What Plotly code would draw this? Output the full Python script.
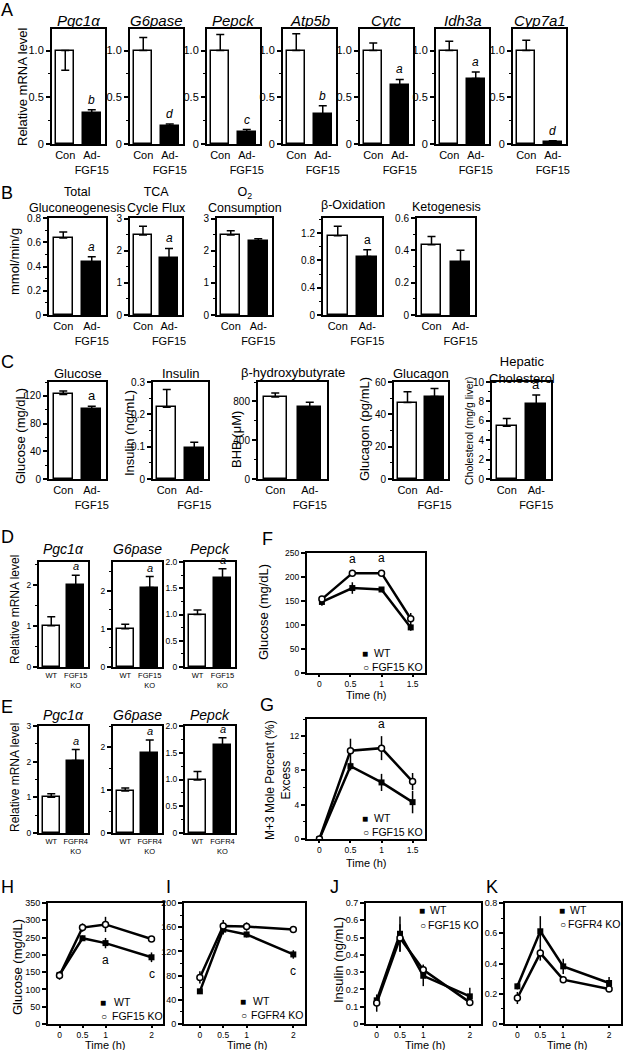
import plotly.graph_objects as go

W, H = 623, 1050
FONT = "Liberation Sans, Arial, Helvetica, sans-serif"

# ---------------- DATA ----------------
# Panel A
a_genes = ["Pgc1α", "G6pase", "Pepck", "Atp5b", "Cytc", "Idh3a", "Cyp7a1"]
a_groups = ["Con", "Ad-<br>FGF15"]
a_con = [1.0, 1.0, 1.0, 1.0, 1.0, 1.0, 1.0]
a_con_err_up = [0.0, 0.14, 0.17, 0.18, 0.08, 0.10, 0.11]
a_con_err_down = [0.21, 0.0, 0.0, 0.0, 0.0, 0.0, 0.0]
a_ad = [0.33, 0.19, 0.13, 0.32, 0.63, 0.70, 0.02]
a_ad_err = [0.035, 0.025, 0.025, 0.09, 0.06, 0.07, 0.015]
a_sig = ["b", "d", "c", "b", "a", "a", "d"]
a_yticks = [0, 0.5, 1.0]
a_yticktext = ["0", "0.5", "1.0"]

# Panel B
b_titles = ["Total<br>Gluconeogenesis", "TCA<br>Cycle Flux", "O<sub>2</sub><br>Consumption",
            "β-Oxidation", "Ketogenesis"]
b_con = [0.635, 2.5, 2.5, 1.16, 0.435]
b_con_err = [0.05, 0.27, 0.13, 0.14, 0.05]
b_ad = [0.44, 1.78, 2.3, 0.855, 0.33]
b_ad_err = [0.04, 0.3, 0.08, 0.10, 0.07]
b_sig = ["a", "a", "", "a", ""]
b_yticks = [[0, 0.2, 0.4, 0.6, 0.8], [0, 1, 2, 3], [0, 1, 2, 3], [0, 0.4, 0.8, 1.2], [0, 0.2, 0.4, 0.6]]
b_yticktext = [["0", "0.2", "0.4", "0.6", "0.8"], ["0", "1", "2", "3"], ["0", "1", "2", "3"],
               ["0", "0.4", "0.8", "1.2"], ["0", "0.2", "0.4", "0.6"]]

# Panel C
c_titles = ["Glucose", "Insulin", "β-hydroxybutyrate", "Glucagon", "Hepatic<br>Cholesterol"]
c_ytitles = ["Glucose (mg/dL)", "Insulin (ng/mL)", "BHB (μM)", "Glucagon (pg/mL)", "Cholesterol (mg/g liver)"]
c_con = [122, 0.222, 845, 47.3, 5.45]
c_con_err = [5, 0.055, 42, 6.7, 0.8]
c_ad = [100.5, 0.096, 744, 51, 7.7]
c_ad_err = [4.5, 0.018, 48, 5, 0.95]
c_sig = ["a", "", "", "", "a"]
c_yticks = [[0, 40, 80, 120], [0, 0.1, 0.2, 0.3], [0, 400, 800], [0, 20, 40, 60], [0, 2, 4, 6, 8, 10]]
c_yticktext = [["0", "40", "80", "120"], ["0", "0.1", "0.2", "0.3"], ["0", "400", "800"],
               ["0", "20", "40", "60"], ["0", "2", "4", "6", "8", "10"]]

# Panels D and E
de_genes = ["Pgc1α", "G6pase", "Pepck"]
d_groups = ["WT", "FGF15<br>KO"]
d_wt = [1.0, 1.0, 1.0]
d_wt_err = [0.22, 0.12, 0.085]
d_ko = [1.98, 2.08, 1.70]
d_ko_err = [0.25, 0.29, 0.17]
d_sig = ["a", "a", "a"]
e_groups = ["WT", "FGFR4<br>KO"]
e_wt = [1.0, 0.98, 0.99]
e_wt_err = [0.10, 0.07, 0.16]
e_ko = [2.03, 1.86, 1.64]
e_ko_err = [0.31, 0.31, 0.14]
e_sig = ["a", "a", "a"]
d_yticks = [[0, 1, 2], [0, 1, 2], [0, 0.5, 1.0, 1.5, 2.0]]
d_yticktext = [["0", "1", "2"], ["0", "1", "2"], ["0", "0.5", "1.0", "1.5", "2.0"]]
e_yticks = [[0, 1, 2, 3], [0, 1, 2], [0, 0.5, 1.0, 1.5, 2.0]]
e_yticktext = [["0", "1", "2", "3"], ["0", "1", "2"], ["0", "0.5", "1.0", "1.5", "2.0"]]

# Panel F (glucose, FGF15 KO)
f_time = [0.04, 0.53, 1.0, 1.47]
f_wt = [148, 177, 174, 95]
f_wt_err = [8, 12, 4, 7]
f_ko = [154, 208, 208, 113]
f_ko_err = [5, 4, 6, 12]
f_sig = ["", "a", "a", ""]

# Panel G (M+3 mole percent excess)
g_time = [0, 0.5, 1.0, 1.5]
g_wt = [0, 8.5, 6.6, 4.3]
g_wt_err = [0, 0.5, 1.0, 1.3]
g_ko = [0, 10.3, 10.6, 6.7]
g_ko_err = [0, 1.4, 1.4, 1.0]
g_sig = ["", "", "a", ""]

# Panels H-K
hk_time = [0, 0.5, 1, 2]
h_wt = [142, 248, 234, 193]
h_wt_err = [10, 8, 15, 14]
h_ko = [140, 279, 288, 246]
h_ko_err = [12, 12, 22, 5]
h_sig = ["", "", "a", "c"]

i_wt = [54, 156, 148, 115]
i_wt_err = [3, 8, 5, 7]
i_ko = [77, 162, 161, 156]
i_ko_err = [10, 10, 7, 5]
i_sig = ["", "", "", "c"]

j_wt = [0.137, 0.522, 0.279, 0.16]
j_wt_err = [0.02, 0.10, 0.06, 0.05]
j_ko = [0.121, 0.497, 0.314, 0.125]
j_ko_err = [0.05, 0.08, 0.03, 0.02]

k_wt = [0.249, 0.613, 0.381, 0.271]
k_wt_err = [0.02, 0.10, 0.05, 0.04]
k_ko = [0.172, 0.469, 0.293, 0.231]
k_ko_err = [0.04, 0.05, 0.02, 0.02]

time_ticks = [0, 0.5, 1, 1.5]
time_ticktext = ["0", "0.5", "1", "1.5"]
hk_ticks = [0, 0.5, 1, 2]
hk_ticktext = ["0", "0.5", "1", "2"]

# ---------------- HELPERS ----------------
fig = go.Figure()
layout = {}
annotations = []
n_axes = [0]


def fx(px):
    return px / W


def fy(py):
    return 1 - py / H


def txt(x, y, text, size, angle=0, xanchor="center", yanchor="middle"):
    annotations.append(dict(x=fx(x), y=fy(y), xref="paper", yref="paper", text=text, showarrow=False,
                            textangle=angle, xanchor=xanchor, yanchor=yanchor,
                            font=dict(size=size, family=FONT, color="black")))


def add_axes(box, xrange, yrange, xtv, xtt, ytv, ytt, yminor, xfont, yfont, xticks="", xticklen=3):
    n_axes[0] += 1
    n = n_axes[0]
    s = "" if n == 1 else str(n)
    l, r, t, b = box
    common = dict(showline=True, mirror=True, linecolor="black", linewidth=2, showgrid=False,
                  zeroline=False, fixedrange=True, tickcolor="black", tickwidth=1.5)
    layout["xaxis" + s] = dict(domain=[fx(l), fx(r)], range=xrange, anchor="y" + s, tickmode="array",
                               tickvals=xtv, ticktext=xtt, ticks=xticks, ticklen=xticklen, tickangle=0,
                               tickfont=dict(size=xfont, family=FONT, color="black"), **common)
    yd = dict(domain=[fy(b), fy(t)], range=yrange, anchor="x" + s, tickmode="array",
              tickvals=ytv, ticktext=ytt, ticks="outside", ticklen=4, tickangle=0,
              tickfont=dict(size=yfont, family=FONT, color="black"), **common)
    if yminor:
        yd["minor"] = dict(dtick=yminor, tick0=0, ticks="outside", ticklen=2.5, tickwidth=1,
                           tickcolor="black", showgrid=False)
    layout["yaxis" + s] = yd
    return "x" + s, "y" + s


def bar_panel(box, title, title_y, title_size, groups, vals, err_up, err_down, sig, sig_italic,
              yrange, ytv, ytt, yminor, xfont, yfont, bar_w=0.68, sig_size=12):
    xr, yr = add_axes(box, [-0.5, 1.5], yrange, [0, 1], groups, ytv, ytt, yminor, xfont, yfont)
    fig.add_trace(go.Bar(x=[0, 1], y=vals, width=bar_w,
                         marker=dict(color=["white", "black"], line=dict(color="black", width=1.5)),
                         error_y=dict(type="data", symmetric=False, array=err_up, arrayminus=err_down,
                                      color="black", thickness=1.5, width=4),
                         xaxis=xr, yaxis=yr, showlegend=False, hoverinfo="skip"))
    l, r, t, b = box
    txt((l + r) / 2, title_y, title, title_size)
    if sig:
        annotations.append(dict(x=1, y=vals[1] + err_up[1], xref=xr, yref=yr,
                                text=("<i>%s</i>" % sig) if sig_italic else sig, showarrow=False,
                                yanchor="bottom", yshift=1,
                                font=dict(size=sig_size, family=FONT, color="black")))


def legend_block(marker_x, text_x, y1, y2, ko_name):
    txt(marker_x, y1, "■", 10)
    txt(text_x, y1, "WT", 10.5, xanchor="left")
    txt(marker_x + 1, y2, "<b>○</b>", 10)
    txt(text_x - 2, y2, ko_name, 10.5, xanchor="left")


def line_panel(box, xrange, t_wt, t_ko, wt, wt_err, ko, ko_err, yrange, ytv, ytt, yminor, xtv, xtt,
               sig, sig_side, ko_name, yfont=9, xfont=8.5):
    xr, yr = add_axes(box, xrange, yrange, xtv, xtt, ytv, ytt, yminor, xfont, yfont,
                      xticks="outside", xticklen=2)
    fig.add_trace(go.Scatter(x=t_wt, y=wt, mode="lines+markers", name="WT",
                             line=dict(color="black", width=2.5),
                             marker=dict(symbol="square", size=6, color="black"),
                             error_y=dict(type="data", array=wt_err, color="black", thickness=1.5, width=0),
                             xaxis=xr, yaxis=yr, showlegend=False, hoverinfo="skip"))
    fig.add_trace(go.Scatter(x=t_ko, y=ko, mode="lines+markers", name=ko_name,
                             line=dict(color="black", width=2.5),
                             marker=dict(symbol="circle", size=6, color="white",
                                         line=dict(color="black", width=1.5)),
                             error_y=dict(type="data", array=ko_err, color="black", thickness=1.5, width=0),
                             xaxis=xr, yaxis=yr, showlegend=False, hoverinfo="skip"))
    for i, s in enumerate(sig):
        if not s:
            continue
        if sig_side == "above":
            yv = max(wt[i] + wt_err[i], ko[i] + ko_err[i])
            annotations.append(dict(x=t_ko[i], y=yv, xref=xr, yref=yr, text=s, showarrow=False,
                                    yanchor="bottom", yshift=3,
                                    font=dict(size=12, family=FONT, color="black")))
        else:
            yv = min(wt[i] - wt_err[i], ko[i] - ko_err[i])
            annotations.append(dict(x=t_wt[i], y=yv, xref=xr, yref=yr, text=s, showarrow=False,
                                    yanchor="top", yshift=-3,
                                    font=dict(size=12, family=FONT, color="black")))


# ---------------- PANEL A ----------------
a_lefts = [52, 130, 207, 283, 360, 436, 513]
for i, g in enumerate(a_genes):
    bar_panel((a_lefts[i], a_lefts[i] + 53, 29, 144), "<i>%s</i>" % g, 20, 15, a_groups,
              [a_con[i], a_ad[i]], [a_con_err_up[i], a_ad_err[i]], [a_con_err_down[i], 0],
              a_sig[i], True, [0, 1.23], a_yticks, a_yticktext, 0.25, 11, 11)
txt(22, 87, "Relative mRNA level", 13, angle=-90)

# ---------------- PANEL B ----------------
b_boxes = [(49, 106), (130, 182), (217, 272), (323, 382), (417, 475)]
b_ranges = [[0, 0.8], [0, 3.03], [0, 3.03], [0, 1.42], [0, 0.6]]
b_minor = [0.1, 0.5, 0.5, 0.2, 0.1]
b_title_y = [200, 200, 200, 205, 207]
for i, t in enumerate(b_titles):
    l, r = b_boxes[i]
    bar_panel((l, r, 218, 315), t, b_title_y[i], 12.5, a_groups, [b_con[i], b_ad[i]],
              [b_con_err[i], b_ad_err[i]], [0, 0], b_sig[i], i < 3, b_ranges[i],
              b_yticks[i], b_yticktext[i], b_minor[i], 11, 10)
txt(15, 262, "mmol/min/g", 13, angle=-90)

# ---------------- PANEL C ----------------
c_boxes = [(49, 106), (153, 208), (258, 327), (394, 448), (492, 551)]
c_ranges = [[0, 140], [0, 0.3], [0, 1000], [0, 60], [0, 10]]
c_minor = [20, 0.05, 200, 10, 1]
c_title_y = [373, 373, 372, 373, 370]
c_ytitle_xy = [(21, 436), (129, 433), (236, 440), (364, 429), (469, 430)]
c_ytitle_size = [13, 13, 13, 13, 10.5]
for i, t in enumerate(c_titles):
    l, r = c_boxes[i]
    bar_panel((l, r, 382, 479), t, c_title_y[i], 13, a_groups, [c_con[i], c_ad[i]],
              [c_con_err[i], c_ad_err[i]], [0, 0], c_sig[i], False, c_ranges[i],
              c_yticks[i], c_yticktext[i], c_minor[i], 11, 10, bar_w=0.68, sig_size=13)
    txt(c_ytitle_xy[i][0], c_ytitle_xy[i][1], c_ytitles[i], c_ytitle_size[i], angle=-90)

# ---------------- PANELS D / E ----------------
de_boxes = [(39, 88), (113, 162), (185, 235)]
d_ranges = [[0, 2.55], [0, 2.75], [0, 2.0]]
e_ranges = [[0, 3.0], [0, 2.5], [0, 2.0]]
de_minor = [0.5, 0.5, 0.25]
for i, g in enumerate(de_genes):
    l, r = de_boxes[i]
    bar_panel((l, r, 562, 667), "<i>%s</i>" % g, 549, 14, d_groups, [d_wt[i], d_ko[i]],
              [d_wt_err[i], d_ko_err[i]], [0, 0], d_sig[i], True, d_ranges[i],
              d_yticks[i], d_yticktext[i], de_minor[i], 7.5, 8.5, bar_w=0.7, sig_size=11)
    bar_panel((l, r, 726, 833), "<i>%s</i>" % g, 715, 14, e_groups, [e_wt[i], e_ko[i]],
              [e_wt_err[i], e_ko_err[i]], [0, 0], e_sig[i], True, e_ranges[i],
              e_yticks[i], e_yticktext[i], de_minor[i], 7.5, 8.5, bar_w=0.7, sig_size=11)
txt(15, 610, "Relative mRNA level", 12, angle=-90)
txt(15, 778, "Relative mRNA level", 12, angle=-90)

# ---------------- PANEL F ----------------
line_panel((307, 425, 553, 673), [-0.2, 1.7], f_time, f_time, f_wt, f_wt_err, f_ko, f_ko_err,
           [0, 250], [0, 50, 100, 150, 200, 250], ["0", "50", "100", "150", "200", "250"], None,
           time_ticks, time_ticktext, f_sig, "above", "FGF15 KO", yfont=8.5)
legend_block(365, 372, 653, 667, "FGF15 KO")
txt(263, 612, "Glucose (mg/dL)", 13, angle=-90)
txt(367, 695, "Time (h)", 11)

# ---------------- PANEL G ----------------
line_panel((307, 425, 719, 839), [-0.2, 1.7], g_time, g_time, g_wt, g_wt_err, g_ko, g_ko_err,
           [0, 14], [0, 4, 8, 12], ["0", "4", "8", "12"], 2,
           time_ticks, time_ticktext, g_sig, "above", "FGF15 KO", yfont=8.5)
legend_block(365, 372, 818, 832, "FGF15 KO")
txt(278, 780, "M+3 Mole Percent (%)<br>Excess", 12, angle=-90)
txt(367, 863, "Time (h)", 11)

# ---------------- PANELS H-K ----------------
line_panel((48, 163, 903, 1024), [-0.25, 2.25], hk_time, hk_time, h_wt, h_wt_err, h_ko, h_ko_err,
           [0, 350], [0, 50, 100, 150, 200, 250, 300, 350],
           ["0", "50", "100", "150", "200", "250", "300", "350"], None,
           hk_ticks, hk_ticktext, h_sig, "below", "FGF15 KO")
legend_block(103, 112, 1002, 1016, "FGF15 KO")
txt(17, 967, "Glucose (mg/dL)", 13, angle=-90)
txt(105, 1044.5, "Time (h)", 11)

line_panel((184, 305, 903, 1024), [-0.34, 2.25], hk_time, hk_time, i_wt, i_wt_err, i_ko, i_ko_err,
           [0, 200], [0, 40, 80, 120, 160, 200], ["0", "40", "80", "120", "160", "200"], 20,
           hk_ticks, hk_ticktext, i_sig, "below", "FGFR4 KO")
legend_block(243, 251, 1001, 1015, "FGFR4 KO")
txt(247, 1044.5, "Time (h)", 11)

line_panel((366, 481, 903, 1024), [-0.23, 2.24], hk_time, hk_time, j_wt, j_wt_err, j_ko, j_ko_err,
           [0, 0.7], [0, 0.1, 0.2, 0.3, 0.4, 0.5, 0.6, 0.7],
           ["0", "0.1", "0.2", "0.3", "0.4", "0.5", "0.6", "0.7"], None,
           hk_ticks, hk_ticktext, ["", "", "", ""], "above", "FGF15 KO")
legend_block(422, 428, 910, 925, "FGF15 KO")
txt(338, 960, "Insulin (ng/mL)", 13, angle=-90)
txt(425, 1044.5, "Time (h)", 11)

line_panel((505, 621, 903, 1024), [-0.27, 2.26], hk_time, hk_time, k_wt, k_wt_err, k_ko, k_ko_err,
           [0, 0.8], [0, 0.2, 0.4, 0.6, 0.8], ["0", "0.2", "0.4", "0.6", "0.8"], 0.1,
           hk_ticks, hk_ticktext, ["", "", "", ""], "above", "FGFR4 KO")
legend_block(562, 568, 910, 924, "FGFR4 KO")
txt(567, 1044.5, "Time (h)", 11)

# ---------------- PANEL LETTERS ----------------
for letter, x, y in [("A", 7, 10), ("B", 7, 193), ("C", 7, 362), ("D", 7, 537), ("E", 7, 707),
                     ("F", 267, 539), ("G", 267, 705), ("H", 7, 887), ("I", 168, 887),
                     ("J", 334, 887), ("K", 492, 887)]:
    txt(x, y, letter, 18)

fig.update_layout(**layout)
fig.update_layout(width=W, height=H, margin=dict(l=0, r=0, t=0, b=0, autoexpand=False),
                  paper_bgcolor="white", plot_bgcolor="white", annotations=annotations,
                  font=dict(family=FONT, color="black"), bargap=0, showlegend=False)
fig.write_html("out.html", config={"displayModeBar": False},
               post_script="document.body.style.margin='0px';")
